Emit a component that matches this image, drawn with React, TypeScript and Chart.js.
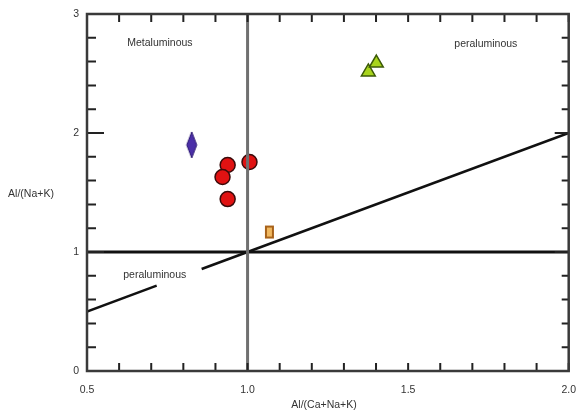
import React, { useEffect, useRef } from "react";
import { Chart, registerables } from "chart.js";

Chart.register(...registerables);

const diamondPts = [{ x: 0.826, y: 1.9 }];
const circlePts = [
  { x: 0.938, y: 1.731 },
  { x: 0.922, y: 1.63 },
  { x: 0.938, y: 1.445 },
  { x: 1.006, y: 1.756 },
];
const rectPts = [{ x: 1.068, y: 1.168 }];
const trianglePts = [
  { x: 1.376, y: 2.513 },
  { x: 1.401, y: 2.588 },
];
const diagLow = [
  { x: 0.5, y: 0.5 },
  { x: 0.717, y: 0.717 },
];
const diagHigh = [
  { x: 0.857, y: 0.857 },
  { x: 2.0, y: 2.0 },
];
const vLine = [
  { x: 1.0, y: 0 },
  { x: 1.0, y: 3 },
];
const hLine = [
  { x: 0.5, y: 1 },
  { x: 2.0, y: 1 },
];
const xTickLabels = ["0.5", "1.0", "1.5", "2.0"];
const yTickLabels = ["0", "1", "2", "3"];
const regionLabels = [
  { text: "Metaluminous", x: 0.727, y: 2.756 },
  { text: "peraluminous", x: 1.742, y: 2.748 },
  { text: "peraluminous", x: 0.711, y: 0.807 },
];

const FONT = "'Liberation Sans', Arial, sans-serif";

function makeDiamond() {
  const c = document.createElement("canvas");
  c.width = 14;
  c.height = 28;
  const g = c.getContext("2d")!;
  g.beginPath();
  g.moveTo(7, 1);
  g.lineTo(12, 14);
  g.lineTo(7, 27);
  g.lineTo(2, 14);
  g.closePath();
  g.fillStyle = "#4b2fa8";
  g.fill();
  g.strokeStyle = "#2a1670";
  g.lineWidth = 1;
  g.stroke();
  return c;
}

function makeRect() {
  const c = document.createElement("canvas");
  c.width = 11;
  c.height = 15;
  const g = c.getContext("2d")!;
  g.fillStyle = "#a8621a";
  g.fillRect(1, 1, 9, 13);
  g.fillStyle = "#f0b860";
  g.fillRect(3, 3, 5, 9);
  return c;
}

const framePlugin = {
  id: "framePlugin",
  afterDraw(chart: any) {
    const ctx = chart.ctx;
    const xs = chart.scales.x;
    const ys = chart.scales.y;
    const { left, right, top, bottom } = chart.chartArea;
    ctx.save();
    ctx.strokeStyle = "#222";
    ctx.lineWidth = 2;
    for (let i = 5; i <= 20; i++) {
      const v = i / 10;
      const px = xs.getPixelForValue(v);
      ctx.beginPath();
      ctx.moveTo(px, bottom);
      ctx.lineTo(px, bottom - 8);
      ctx.moveTo(px, top);
      ctx.lineTo(px, top + 8);
      ctx.stroke();
    }
    for (let i = 0; i <= 15; i++) {
      const v = i / 5;
      const py = ys.getPixelForValue(v);
      const major = i % 5 === 0;
      ctx.beginPath();
      ctx.moveTo(left, py);
      ctx.lineTo(left + (major ? 17 : 9), py);
      ctx.moveTo(right, py);
      ctx.lineTo(right - (major ? 14 : 7), py);
      ctx.stroke();
    }
    ctx.strokeStyle = "#3a3a3a";
    ctx.lineWidth = 2.5;
    ctx.strokeRect(left, top, right - left, bottom - top);
    ctx.fillStyle = "#333";
    ctx.font = `10.5px ${FONT}`;
    ctx.textAlign = "center";
    ctx.textBaseline = "middle";
    for (const r of regionLabels) {
      ctx.fillText(r.text, xs.getPixelForValue(r.x), ys.getPixelForValue(r.y));
    }
    ctx.font = `10.5px ${FONT}`;
    ctx.textAlign = "center";
    ctx.fillText("Al/(Na+K)", 31, 194);
    ctx.fillText("Al/(Ca+Na+K)", 324, 405);
    ctx.restore();
  },
};

export default function App() {
  const ref = useRef<HTMLCanvasElement>(null);
  useEffect(() => {
    document.body.style.margin = "0";
    const diamond = makeDiamond();
    const rectImg = makeRect();
    const lineDs = (data: any, color: string, width: number) => ({
      type: "scatter" as const,
      data,
      showLine: true,
      borderColor: color,
      borderWidth: width,
      pointRadius: 0,
      fill: false,
    });
    const chart = new Chart(ref.current!, {
      type: "scatter",
      data: {
        datasets: [
          lineDs(vLine, "#707070", 3),
          lineDs(hLine, "#111", 3),
          lineDs(diagLow, "#111", 2.5),
          lineDs(diagHigh, "#111", 2.5),
          {
            data: diamondPts,
            pointStyle: diamond as any,
            pointRadius: 10,
          },
          {
            data: circlePts,
            pointStyle: "circle",
            pointRadius: 7.5,
            backgroundColor: "#e01212",
            borderColor: "#3a0a0a",
            borderWidth: 1.5,
          },
          {
            data: rectPts,
            pointStyle: rectImg as any,
            pointRadius: 8,
          },
          {
            data: trianglePts,
            pointStyle: "triangle",
            pointRadius: 8,
            backgroundColor: "#a8d41c",
            borderColor: "#3c5a08",
            borderWidth: 1.5,
          },
        ],
      },
      options: {
        animation: false,
        responsive: false,
        events: [],
        layout: { padding: { left: 0, right: 11, top: 14, bottom: 0 } },
        plugins: { legend: { display: false }, tooltip: { enabled: false } },
        scales: {
          x: {
            type: "linear",
            min: 0.5,
            max: 2.0,
            grid: { display: false },
            border: { display: false },
            afterFit: (s: any) => {
              s.height = 41;
            },
            afterBuildTicks: (s: any) => {
              s.ticks = xTickLabels.map((t) => ({ value: parseFloat(t), label: t }));
            },
            ticks: {
              padding: 5,
              color: "#333",
              font: { size: 10.5, family: FONT },
              callback: (v: any) => {
                const f = xTickLabels.find((t) => Math.abs(parseFloat(t) - v) < 1e-6);
                return f ?? "";
              },
              maxRotation: 0,
            },
          },
          y: {
            type: "linear",
            min: 0,
            max: 3,
            grid: { display: false },
            border: { display: false },
            afterFit: (s: any) => {
              s.width = 87;
            },
            afterBuildTicks: (s: any) => {
              s.ticks = yTickLabels.map((t) => ({ value: parseFloat(t), label: t }));
            },
            ticks: {
              padding: 0,
              color: "#333",
              font: { size: 10.5, family: FONT },
              callback: (v: any) => {
                const f = yTickLabels.find((t) => Math.abs(parseFloat(t) - v) < 1e-6);
                return f ?? "";
              },
            },
          },
        },
      },
      plugins: [framePlugin],
    });
    return () => chart.destroy();
  }, []);
  return <canvas ref={ref} width={581} height={412} style={{ display: "block" }} />;
}
